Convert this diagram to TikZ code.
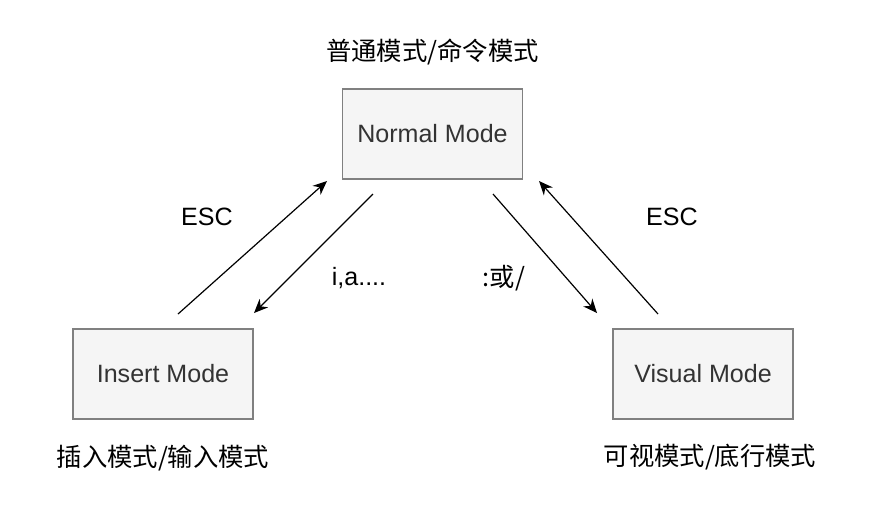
\documentclass[tikz,border=0pt]{standalone}
\usepackage{fontspec}
\setmainfont{Liberation Sans}
\newfontfamily\cjk{Noto Sans CJK SC}
\usepackage{xcolor}
\usepackage{tikz}
\usetikzlibrary{positioning,arrows.meta}
\definecolor{boxfill}{HTML}{F5F5F5}
\definecolor{boxline}{HTML}{808080}
\definecolor{boxtext}{HTML}{333333}

\begin{document}
\begin{tikzpicture}[
    x=0.75pt, y=-0.75pt,
    modebox/.style={rectangle, draw=boxline, line width=1.1pt, fill=boxfill,
        text=boxtext, minimum width=135pt, minimum height=67.5pt,
        font=\fontsize{18.8}{22}\selectfont},
    caption/.style={font=\cjk\fontsize{19}{22}\selectfont},
    keylabel/.style={font=\fontsize{18.8}{22}\selectfont},
    trans/.style={line width=0.9pt, -{Stealth[length=10.5pt,width=9pt]}}
]
    \useasboundingbox (0,0) rectangle (870,522);

    \node[modebox] (normal) at (432.5,134) {Normal Mode};
    \node[modebox] (insert) at (163,374) {Insert Mode};
    \node[modebox] (visual) at (703,374) {Visual Mode};

    \node[caption] (normalcap) at (432.5,52) {普通模式/命令模式};
    \node[caption] (insertcap) at (163,458) {插入模式/输入模式};
    \node[caption] (visualcap) at (710,457) {可视模式/底行模式};

    \coordinate (escLfrom) at (178,314);
    \coordinate (escLto) at (327,181);
    \coordinate (iaFrom) at (373,194);
    \coordinate (iaTo) at (254,313);
    \coordinate (colFrom) at (493,194);
    \coordinate (colTo) at (597,313);
    \coordinate (escRfrom) at (658,314);
    \coordinate (escRto) at (539,181);

    \draw[trans] (escLfrom) -- (escLto);
    \draw[trans] (iaFrom) -- (iaTo);
    \draw[trans] (colFrom) -- (colTo);
    \draw[trans] (escRfrom) -- (escRto);

    \node[keylabel] (escL) at (207,217) {ESC};
    \node[keylabel] (ia) at (359,278) {i,a....};
    \node[caption] (colon) at (504,278) {:或/};
    \node[keylabel] (escR) at (672,217) {ESC};
\end{tikzpicture}
\end{document}
